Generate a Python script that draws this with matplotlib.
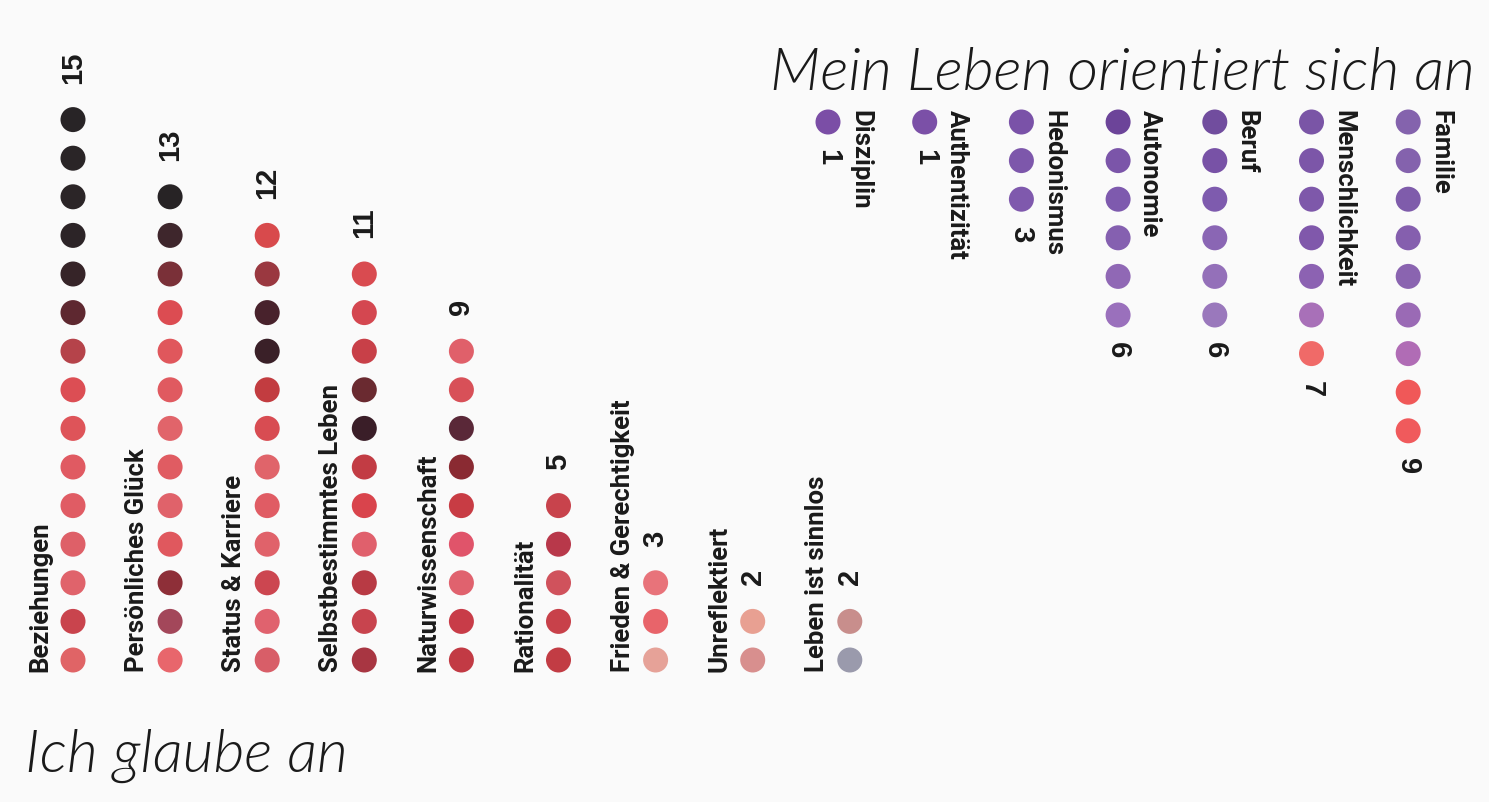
import numpy as np
import matplotlib
matplotlib.use("Agg")
import matplotlib.pyplot as plt

# ---- data ----
belief_labels = ["Beziehungen", "Persönliches Glück", "Status & Karriere",
                 "Selbstbestimmtes Leben", "Naturwissenschaft", "Rationalität",
                 "Frieden & Gerechtigkeit", "Unreflektiert", "Leben ist sinnlos"]
belief_counts = [15, 13, 12, 11, 9, 5, 3, 2, 2]

orient_labels = ["Disziplin", "Authentizität", "Hedonismus", "Autonomie",
                 "Beruf", "Menschlichkeit", "Familie"]
orient_counts = [1, 1, 3, 6, 6, 7, 9]

# dot colours, listed from the top dot downwards
belief_colors = [
    ["#282426", "#2a2527", "#2b2527", "#2c2427", "#362428", "#5e2830", "#b5434a",
     "#dc4e54", "#de5459", "#e05a62", "#e05c64", "#de6068", "#e0636b", "#c9444d", "#e06466"],
    ["#272325", "#3e262c", "#7a3038", "#dc4c52", "#e0575c", "#e05a60", "#e1646a",
     "#e05c62", "#e0626a", "#e0585e", "#8e2f38", "#a3475a", "#e8666c"],
    ["#d84a4c", "#9a3840", "#48222c", "#3a2028", "#c23c40", "#d84c52", "#e0646a",
     "#e05c64", "#e0626a", "#cc4650", "#e0626e", "#d85e68"],
    ["#d94b50", "#d44750", "#c84048", "#6a2a30", "#3a1e28", "#c23c44", "#d9444c",
     "#e0606c", "#b83a44", "#c8444e", "#a83642"],
    ["#e0606a", "#d85058", "#5a2838", "#8a2a32", "#c83c44", "#e0546a", "#e0626e",
     "#c83c48", "#c23a44"],
    ["#c8434c", "#b8384a", "#d0525c", "#c8414a", "#c23c44"],
    ["#e8737a", "#e8646a", "#e6a298"],
    ["#e8a092", "#d88f8e"],
    ["#c88e8c", "#9a9aac"],
]
orient_colors = [
    ["#7b4ea6"],
    ["#7b50a7"],
    ["#7a52a8", "#7d57ab", "#7f59ad"],
    ["#6c4499", "#7b55a9", "#7e5aae", "#8560b0", "#9068b5", "#9a70bc"],
    ["#714d9e", "#7852a6", "#7e5bae", "#8a66b4", "#9470b9", "#9a78bc"],
    ["#7a55a6", "#7c56a8", "#7e58aa", "#8058ab", "#8c62b2", "#a870b8", "#f06a68"],
    ["#8463ad", "#8462ad", "#7f5cab", "#855fae", "#8a64b0", "#9a6ab5", "#b06cb5",
     "#f05858", "#f05a5c"],
]

W, H = 1489, 802
fig = plt.figure(figsize=(W / 100, H / 100), dpi=100, facecolor="#fafafa")
ax = fig.add_axes([0, 0, 1, 1])
ax.set_xlim(0, W)
ax.set_ylim(H, 0)
ax.axis("off")

label_font = ["Roboto", "DejaVu Sans"]
num_font = ["Liberation Sans", "DejaVu Sans"]
script_font = ["Lato", "DejaVu Sans"]
ink = "#1a1a1a"

dot_d = 25
step = 38.6

# ---- "Ich glaube an": columns grow upward ----
bx0, bdx, by0 = 73, 97.1, 660
for i, (lab, n) in enumerate(zip(belief_labels, belief_counts)):
    x = bx0 + i * bdx
    ys = by0 - np.arange(n)[::-1] * step
    for y, c in zip(ys, belief_colors[i]):
        ax.add_patch(plt.Circle((x, y), dot_d / 2, color=c, lw=0))
    ax.text(x - 33, by0 + 12.5, lab, rotation=90, rotation_mode="anchor",
            ha="left", va="center", fontsize=18.5, fontweight="bold",
            family=label_font, color=ink)
    ax.text(x, ys[0] - 36, str(n), rotation=90, rotation_mode="anchor",
            ha="left", va="center", fontsize=21, fontweight="bold",
            family=num_font, color=ink)

ax.text(25, 772, "Ich glaube an", fontsize=43, style="italic", fontweight=300,
        family=script_font, color=ink)

# ---- "Mein Leben orientiert sich an": columns hang downward ----
ox0, odx, oy0 = 828, 96.7, 122
for i, (lab, n) in enumerate(zip(orient_labels, orient_counts)):
    x = ox0 + i * odx
    ys = oy0 + np.arange(n) * step
    for y, c in zip(ys, orient_colors[i]):
        ax.add_patch(plt.Circle((x, y), dot_d / 2, color=c, lw=0))
    ax.text(x + 32, oy0 - 12.5, lab, rotation=-90, rotation_mode="anchor",
            ha="left", va="center", fontsize=18.5, fontweight="bold",
            family=label_font, color=ink)
    ax.text(x, ys[-1] + 27, str(n), rotation=-90, rotation_mode="anchor",
            ha="left", va="center", fontsize=21, fontweight="bold",
            family=num_font, color=ink)

ax.text(770, 90, "Mein Leben orientiert sich an", fontsize=43, style="italic",
        fontweight=300, family=script_font, color=ink)

fig.savefig("out.png", dpi=100, facecolor=fig.get_facecolor())
